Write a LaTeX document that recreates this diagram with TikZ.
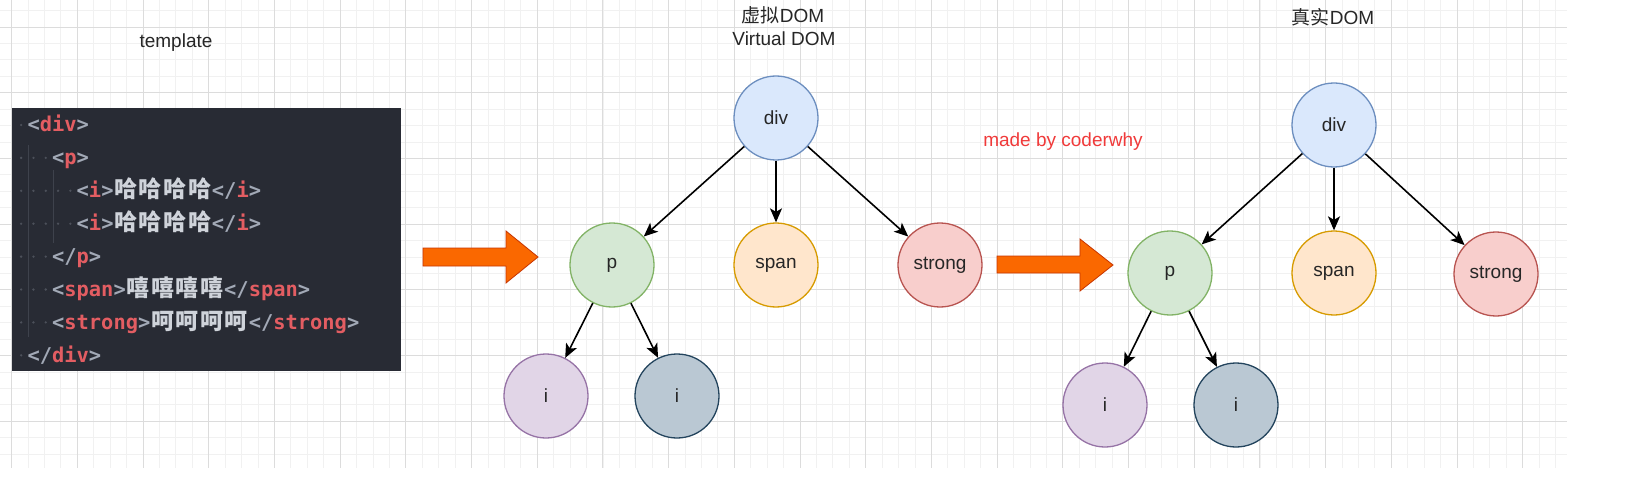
\documentclass[tikz,border=0pt]{standalone}
\usepackage{fontspec}
\setmainfont{Liberation Sans}
\newfontfamily\cjk{Noto Sans CJK SC}
\newfontfamily\codefont{DejaVu Sans Mono}
\usetikzlibrary{arrows.meta}
\definecolor{gridminor}{HTML}{F1F1F1}
\definecolor{gridmajor}{HTML}{DCDCDC}
\definecolor{codebg}{HTML}{282B34}
\definecolor{tagred}{HTML}{E35D62}
\definecolor{brgray}{HTML}{A2A9B6}
\definecolor{cjkgray}{HTML}{CFD3DA}
\definecolor{guidec}{HTML}{3E424C}
\definecolor{dotc}{HTML}{4C505A}
\definecolor{divfill}{HTML}{DAE8FC}\definecolor{divline}{HTML}{6C8EBF}
\definecolor{pfill}{HTML}{D5E8D4}\definecolor{pline}{HTML}{82B366}
\definecolor{spanfill}{HTML}{FFE6CC}\definecolor{spanline}{HTML}{D79B00}
\definecolor{strfill}{HTML}{F8CECC}\definecolor{strline}{HTML}{B85450}
\definecolor{ifill}{HTML}{E1D5E7}\definecolor{iline}{HTML}{9673A6}
\definecolor{jfill}{HTML}{BAC8D3}\definecolor{jline}{HTML}{23445D}
\definecolor{orfill}{HTML}{FA6800}\definecolor{orline}{HTML}{C73500}
\definecolor{madered}{HTML}{F03A3A}
\newcommand{\tg}[1]{\textcolor{tagred}{#1}}
\newcommand{\bk}[1]{\textcolor{brgray}{#1}}
\newcommand{\cj}[1]{\makebox[24.6pt]{\cjk\bfseries\fontsize{23}{24}\selectfont\color{cjkgray}#1}}
\begin{document}
\begin{tikzpicture}[x=1pt,y=-1pt,
  circ/.style={circle, minimum size=84pt, inner sep=0pt, line width=1.3pt,
    font=\fontsize{19}{22}\selectfont, text=black!85},
  label19/.style={inner sep=0pt, font=\fontsize{19}{22}\selectfont, text=black!85},
  codeline/.style={anchor=base west, inner sep=0pt,
    font=\codefont\bfseries\fontsize{20.4}{24}\selectfont},
  edge/.style={line width=1.6pt, -{Stealth[length=14pt,width=12pt,inset=3.5pt]}},
  bigarrow/.style={fill=orfill, draw=orline, line width=0.8pt, line join=miter},
  minor/.style={draw=gridminor, line width=0.8pt},
  major/.style={draw=gridmajor, line width=0.9pt}]
\useasboundingbox (0,0) rectangle (1634,484);
\fill[white] (0,0) rectangle (1634,484);
% grid
\foreach \k in {0,...,94} {\draw[minor] ({11.6+16.425*\k},0) -- ({11.6+16.425*\k},468);}
\foreach \k in {-1,...,26} {\draw[minor] (0,{27+16.425*\k}) -- (1567,{27+16.425*\k});}
\foreach \k in {0,...,23} {\draw[major] ({11.6+65.7*\k},0) -- ({11.6+65.7*\k},468);}
\foreach \k in {0,...,6} {\draw[major] (0,{27+65.7*\k}) -- (1567,{27+65.7*\k});}
% titles
\node[label19] (ttemplate) at (176,43) {template};
\node[label19] (tvirt1) at (783,15) {{\cjk 虚拟}DOM};
\node[label19] (tvirt2) at (784,39) {Virtual DOM};
\node[label19] (treal) at (1333,17) {{\cjk 真实}DOM};
\node[label19, text=madered] (tmade) at (1063,142) {made by coderwhy};
% code box
\fill[codebg] (12,108) rectangle (401,371);
\draw[guidec, line width=1pt] (28,145) -- (28,337);
\draw[guidec, line width=1pt] (53,170) -- (53,243);
\foreach \r/\n in {0/1,1/3,2/5,3/5,4/3,5/3,6/3,7/1} {
  \foreach \c in {1,...,\n} {\fill[dotc] ({21.15+12.3*(\c-1)},{125+32.9*\r}) circle (1.3);}
}
\node[codeline] (c1) at ({15+12.3*1},{125+32.9*0+7}) {\bk{<}\tg{div}\bk{>}};
\node[codeline] (c2) at ({15+12.3*3},{125+32.9*1+7}) {\bk{<}\tg{p}\bk{>}};
\node[codeline] (c3) at ({15+12.3*5},{125+32.9*2+7}) {\bk{<}\tg{i}\bk{>}\cj{哈}\cj{哈}\cj{哈}\cj{哈}\bk{</}\tg{i}\bk{>}};
\node[codeline] (c4) at ({15+12.3*5},{125+32.9*3+7}) {\bk{<}\tg{i}\bk{>}\cj{哈}\cj{哈}\cj{哈}\cj{哈}\bk{</}\tg{i}\bk{>}};
\node[codeline] (c5) at ({15+12.3*3},{125+32.9*4+7}) {\bk{</}\tg{p}\bk{>}};
\node[codeline] (c6) at ({15+12.3*3},{125+32.9*5+7}) {\bk{<}\tg{span}\bk{>}\cj{嘻}\cj{嘻}\cj{嘻}\cj{嘻}\bk{</}\tg{span}\bk{>}};
\node[codeline] (c7) at ({15+12.3*3},{125+32.9*6+7}) {\bk{<}\tg{strong}\bk{>}\cj{呵}\cj{呵}\cj{呵}\cj{呵}\bk{</}\tg{strong}\bk{>}};
\node[codeline] (c8) at ({15+12.3*1},{125+32.9*7+7}) {\bk{</}\tg{div}\bk{>}};
% orange arrows
\draw[bigarrow] (423,248) -- (506,248) -- (506,231) -- (538,257) -- (506,283) -- (506,266) -- (423,266) -- cycle;
\draw[bigarrow] (997,256) -- (1080,256) -- (1080,239) -- (1113,265) -- (1080,291) -- (1080,273) -- (997,273) -- cycle;
% virtual DOM tree
\node[circ, fill=divfill, draw=divline] (vdiv) at (776,118) {div};
\node[circ, fill=pfill, draw=pline] (vp) at (612,265) {p};
\node[circ, fill=spanfill, draw=spanline] (vspan) at (776,265) {span};
\node[circ, fill=strfill, draw=strline] (vstrong) at (940,265) {strong};
\node[circ, fill=ifill, draw=iline] (vi1) at (546,396) {i};
\node[circ, fill=jfill, draw=jline] (vi2) at (677,396) {i};
\draw[edge] (vdiv) -- (vp);
\draw[edge] (vdiv) -- (vspan);
\draw[edge] (vdiv) -- (vstrong);
\draw[edge] (vp) -- (vi1);
\draw[edge] (vp) -- (vi2);
% real DOM tree
\node[circ, fill=divfill, draw=divline] (rdiv) at (1334,125) {div};
\node[circ, fill=pfill, draw=pline] (rp) at (1170,273) {p};
\node[circ, fill=spanfill, draw=spanline] (rspan) at (1334,273) {span};
\node[circ, fill=strfill, draw=strline] (rstrong) at (1496,274) {strong};
\node[circ, fill=ifill, draw=iline] (ri1) at (1105,405) {i};
\node[circ, fill=jfill, draw=jline] (ri2) at (1236,405) {i};
\draw[edge] (rdiv) -- (rp);
\draw[edge] (rdiv) -- (rspan);
\draw[edge] (rdiv) -- (rstrong);
\draw[edge] (rp) -- (ri1);
\draw[edge] (rp) -- (ri2);
\end{tikzpicture}
\end{document}
